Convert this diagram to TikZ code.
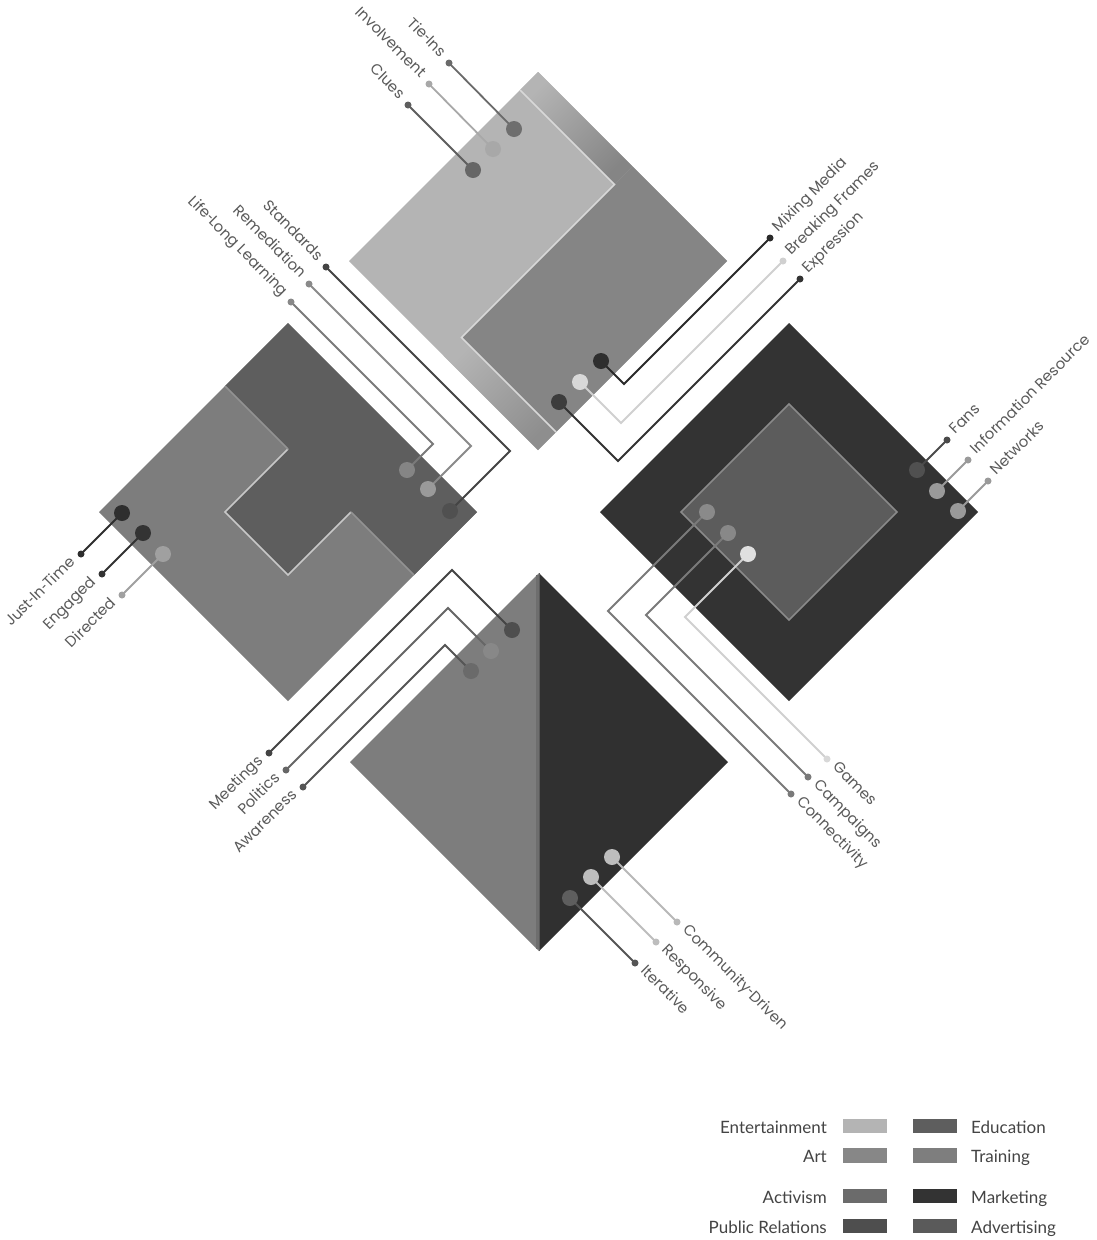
\documentclass[tikz,border=0pt]{standalone}
\usepackage{fontspec}
\newfontfamily\labfont{Poppins}
\newfontfamily\legfont{Lato}
\usetikzlibrary{calc}
\pgfdeclarelayer{back}
\pgfdeclarelayer{mid}
\pgfsetlayers{back,mid,main}
\newcommand\defg[1]{\definecolor{g#1}{HTML}{#1#1#1}}
\newcommand\hy{\scalebox{0.6}[1]{-}}
\defg{2A}\defg{2E}\defg{30}\defg{33}\defg{3C}\defg{44}\defg{4A}\defg{4E}\defg{50}\defg{55}
\defg{5A}\defg{5C}\defg{5E}\defg{66}\defg{6A}\defg{6B}\defg{6E}\defg{74}\defg{7A}\defg{7D}\defg{7E}
\defg{80}\defg{85}\defg{87}\defg{88}\defg{8A}\defg{8E}\defg{92}\defg{9A}\defg{A0}\defg{A8}\defg{B4}
\defg{B8}\defg{BD}\defg{C8}\defg{D0}\defg{D8}\defg{E0}
\begin{document}
\begin{tikzpicture}[x=1pt,y=-1pt,
  bigdot/.style={circle,inner sep=0pt,minimum size=16pt},
  smalldot/.style={circle,inner sep=0pt,minimum size=7pt},
  conn/.style={line width=1.8pt,line join=miter},
  lab/.style={font=\labfont\fontsize{15}{18}\selectfont,text=g5A,inner sep=0pt,text height=0.5em,text depth=0pt},
  leg/.style={font=\legfont\fontsize{17}{20}\selectfont,text=g44,inner sep=0pt},
  swatch/.style={inner sep=0pt,minimum width=44pt,minimum height=14.5pt},
  ridge/.style={line width=1.6pt}
]
\useasboundingbox (0,0) rectangle (1096,1240);

% ---------------- diamonds ----------------
\begin{pgfonlayer}{back}
\fill[white] (0,0) rectangle (1096,1240);
% top: Entertainment / Art
\fill[gB4] (538,72) -- (727,261) -- (538,450) -- (349,261) -- cycle;
\fill[g85] (632.5,166.5) -- (727,261) -- (556,432) -- (461.5,337.5) -- cycle;
\shade[top color=gB4,bottom color=g85,shading angle=45] (538,72) -- (632.5,166.5) -- (614.5,184.5) -- (520,90) -- cycle;
\shade[top color=gB4,bottom color=g8E,shading angle=45] (443.5,355.5) -- (461.5,337.5) -- (556,432) -- (538,450) -- cycle;
\draw[ridge,gD8] (520,90) -- (614.5,184.5) -- (461.5,337.5) -- (556,432);
% left: Education / Training
\fill[g7D] (288,323) -- (477,512) -- (288,701) -- (99,512) -- cycle;
\fill[g5E] (288,323) -- (477,512) -- (414,575) -- (351,512) -- (288,575) -- (225,512) -- (288,449) -- (225,386) -- cycle;
\draw[ridge,gC8] (288,449) -- (225,512) -- (288,575) -- (351,512);
\draw[ridge,g92] (225,386) -- (288,449);
\draw[ridge,g92] (351,512) -- (414,575);
% right: Marketing / Advertising
\fill[g33] (789,323) -- (978,512) -- (789,701) -- (600,512) -- cycle;
\filldraw[fill=g5C,draw=g8A,line width=1.5pt] (789,404) -- (897,512) -- (789,620) -- (681,512) -- cycle;
% bottom
\fill[g7D] (539,573) -- (539,951) -- (350,762) -- cycle;
\fill[g30] (539,573) -- (728,762) -- (539,951) -- cycle;
\draw[line width=3pt,g6E] (537.5,575) -- (537.5,949);
\draw[line width=1pt,g5A] (539.3,573) -- (539.3,951);
\end{pgfonlayer}

% ---------------- dots ----------------
% top diamond, upper left
\node[smalldot,fill=g6A] (TieS) at (449,63) {};
\node[bigdot,fill=g6E]   (TieB) at (514,129) {};
\node[smalldot,fill=gA8] (InvS) at (429,84) {};
\node[bigdot,fill=gA8]   (InvB) at (493,149) {};
\node[smalldot,fill=g5E] (CluS) at (408,105) {};
\node[bigdot,fill=g66]   (CluB) at (473,170) {};
% top diamond, lower right
\node[bigdot,fill=g2E]   (MixB) at (601,361) {};
\coordinate (MixC) at (624,384);
\node[smalldot,fill=g2A] (MixS) at (770,238) {};
\node[bigdot,fill=gD8]   (BrkB) at (580,382) {};
\coordinate (BrkC) at (621,423);
\node[smalldot,fill=gD0] (BrkS) at (783,261) {};
\node[bigdot,fill=g3C]   (ExpB) at (559,402) {};
\coordinate (ExpC) at (618,461);
\node[smalldot,fill=g33] (ExpS) at (800,279) {};
% left diamond, upper right
\node[smalldot,fill=g44] (StdS) at (326,267) {};
\coordinate (StdC) at (510,451);
\node[bigdot,fill=g50]   (StdB) at (450,511) {};
\node[smalldot,fill=g8A] (RemS) at (309,284) {};
\coordinate (RemC) at (471,446);
\node[bigdot,fill=g9A]   (RemB) at (428,489) {};
\node[smalldot,fill=g88] (LifS) at (291,302) {};
\coordinate (LifC) at (433,444);
\node[bigdot,fill=g85]   (LifB) at (407,470) {};
% left diamond, lower left
\node[bigdot,fill=g2E]   (JitB) at (122,513) {};
\node[smalldot,fill=g2E] (JitS) at (81,554) {};
\node[bigdot,fill=g33]   (EngB) at (143,533) {};
\node[smalldot,fill=g33] (EngS) at (102,574) {};
\node[bigdot,fill=gA0]   (DirB) at (163,554) {};
\node[smalldot,fill=gA0] (DirS) at (122,595) {};
% right diamond, upper right
\node[bigdot,fill=g50]   (FanB) at (917,470) {};
\node[smalldot,fill=g4A] (FanS) at (947,440) {};
\node[bigdot,fill=g9A]   (InfB) at (937,491) {};
\node[smalldot,fill=g9A] (InfS) at (968,460) {};
\node[bigdot,fill=g9A]   (NetB) at (958,511) {};
\node[smalldot,fill=g9A] (NetS) at (988,481) {};
% right diamond, lower left
\node[bigdot,fill=g8A]   (ConB) at (707,512) {};
\coordinate (ConC) at (608,611);
\node[smalldot,fill=g7A] (ConS) at (791,794) {};
\node[bigdot,fill=g88]   (CamB) at (728,533) {};
\coordinate (CamC) at (646,615);
\node[smalldot,fill=g7A] (CamS) at (808,777) {};
\node[bigdot,fill=gE0]   (GamB) at (748,554) {};
\coordinate (GamC) at (685,617);
\node[smalldot,fill=gD8] (GamS) at (827,759) {};
% bottom diamond, upper left
\node[bigdot,fill=g4E]   (MeeB) at (512,630) {};
\coordinate (MeeC) at (452,570);
\node[smalldot,fill=g44] (MeeS) at (269,753) {};
\node[bigdot,fill=g88]   (PolB) at (491,651) {};
\coordinate (PolC) at (448,608);
\node[smalldot,fill=g66] (PolS) at (286,770) {};
\node[bigdot,fill=g6A]   (AwaB) at (471,671) {};
\coordinate (AwaC) at (445,645);
\node[smalldot,fill=g55] (AwaS) at (303,787) {};
% bottom diamond, lower right
\node[bigdot,fill=gBD]   (ComB) at (612,857) {};
\node[smalldot,fill=gB8] (ComS) at (677,922) {};
\node[bigdot,fill=gBD]   (ResB) at (591,877) {};
\node[smalldot,fill=gBD] (ResS) at (656,942) {};
\node[bigdot,fill=g5E]   (IteB) at (570,898) {};
\node[smalldot,fill=g55] (IteS) at (635,963) {};

% ---------------- connectors ----------------
\begin{pgfonlayer}{mid}
\draw[conn,g6A] (TieS.center) -- (TieB.center);
\draw[conn,gA8] (InvS.center) -- (InvB.center);
\draw[conn,g5E] (CluS.center) -- (CluB.center);
\draw[conn,g2A] (MixB.center) -- (MixC) -- (MixS.center);
\draw[conn,gD0] (BrkB.center) -- (BrkC) -- (BrkS.center);
\draw[conn,g33] (ExpB.center) -- (ExpC) -- (ExpS.center);
\draw[conn,g44] (StdS.center) -- (StdC) -- (StdB.center);
\draw[conn,g8A] (RemS.center) -- (RemC) -- (RemB.center);
\draw[conn,g7A] (LifS.center) -- (LifC) -- (LifB.center);
\draw[conn,g2E] (JitB.center) -- (JitS.center);
\draw[conn,g33] (EngB.center) -- (EngS.center);
\draw[conn,gA0] (DirB.center) -- (DirS.center);
\draw[conn,g4A] (FanB.center) -- (FanS.center);
\draw[conn,g9A] (InfB.center) -- (InfS.center);
\draw[conn,g9A] (NetB.center) -- (NetS.center);
\draw[conn,g7A] (ConB.center) -- (ConC) -- (ConS.center);
\draw[conn,g7A] (CamB.center) -- (CamC) -- (CamS.center);
\draw[conn,gD0] (GamB.center) -- (GamC) -- (GamS.center);
\draw[conn,g44] (MeeB.center) -- (MeeC) -- (MeeS.center);
\draw[conn,g66] (PolB.center) -- (PolC) -- (PolS.center);
\draw[conn,g55] (AwaB.center) -- (AwaC) -- (AwaS.center);
\draw[conn,gB8] (ComB.center) -- (ComS.center);
\draw[conn,gBD] (ResB.center) -- (ResS.center);
\draw[conn,g55] (IteB.center) -- (IteS.center);
\end{pgfonlayer}

% ---------------- labels ----------------
\node[lab,rotate=-45,anchor=east] (TieL) at ($(TieS)+(-7,-7)$) {Tie\hy Ins};
\node[lab,rotate=-45,anchor=east] (InvL) at ($(InvS)+(-7,-7)$) {Involvement};
\node[lab,rotate=-45,anchor=east] (CluL) at ($(CluS)+(-7,-7)$) {Clues};
\node[lab,rotate=45,anchor=west] (MixL) at ($(MixS)+(7,-7)$) {Mixing Media};
\node[lab,rotate=45,anchor=west] (BrkL) at ($(BrkS)+(7,-7)$) {Breaking Frames};
\node[lab,rotate=45,anchor=west] (ExpL) at ($(ExpS)+(7,-7)$) {Expression};
\node[lab,rotate=-45,anchor=east] (StdL) at ($(StdS)+(-7,-7)$) {Standards};
\node[lab,rotate=-45,anchor=east] (RemL) at ($(RemS)+(-7,-7)$) {Remediation};
\node[lab,rotate=-45,anchor=east] (LifL) at ($(LifS)+(-7,-7)$) {Life\hy Long Learning};
\node[lab,rotate=45,anchor=east] (JitL) at ($(JitS)+(-7,7)$) {Just\hy In\hy Time};
\node[lab,rotate=45,anchor=east] (EngL) at ($(EngS)+(-7,7)$) {Engaged};
\node[lab,rotate=45,anchor=east] (DirL) at ($(DirS)+(-7,7)$) {Directed};
\node[lab,rotate=45,anchor=west] (FanL) at ($(FanS)+(7,-7)$) {Fans};
\node[lab,rotate=45,anchor=west] (InfL) at ($(InfS)+(7,-7)$) {Information Resource};
\node[lab,rotate=45,anchor=west] (NetL) at ($(NetS)+(7,-7)$) {Networks};
\node[lab,rotate=-45,anchor=west] (GamL) at ($(GamS)+(7,7)$) {Games};
\node[lab,rotate=-45,anchor=west] (CamL) at ($(CamS)+(7,7)$) {Campaigns};
\node[lab,rotate=-45,anchor=west] (ConL) at ($(ConS)+(7,7)$) {Connectivity};
\node[lab,rotate=45,anchor=east] (MeeL) at ($(MeeS)+(-7,7)$) {Meetings};
\node[lab,rotate=45,anchor=east] (PolL) at ($(PolS)+(-7,7)$) {Politics};
\node[lab,rotate=45,anchor=east] (AwaL) at ($(AwaS)+(-7,7)$) {Awareness};
\node[lab,rotate=-45,anchor=west] (ComL) at ($(ComS)+(7,7)$) {Community\hy Driven};
\node[lab,rotate=-45,anchor=west] (ResL) at ($(ResS)+(7,7)$) {Responsive};
\node[lab,rotate=-45,anchor=west] (IteL) at ($(IteS)+(7,7)$) {Iterative};

% ---------------- legend ----------------
\node[swatch,fill=gB4] (sEnt) at (865,1126) {};
\node[swatch,fill=g87] (sArt) at (865,1155.5) {};
\node[swatch,fill=g6B] (sAct) at (865,1196) {};
\node[swatch,fill=g4E] (sPR)  at (865,1226) {};
\node[swatch,fill=g5E] (sEdu) at (935,1126) {};
\node[swatch,fill=g7E] (sTra) at (935,1155.5) {};
\node[swatch,fill=g33] (sMkt) at (935,1196) {};
\node[swatch,fill=g5A] (sAdv) at (935,1226) {};
\node[leg,anchor=base east] (tEnt) at (827,1133) {Entertainment};
\node[leg,anchor=base east] (tArt) at (827,1162.5) {Art};
\node[leg,anchor=base east] (tAct) at (827,1203) {Activism};
\node[leg,anchor=base east] (tPR)  at (827,1233) {Public Relations};
\node[leg,anchor=base west] (tEdu) at (971,1133) {Education};
\node[leg,anchor=base west] (tTra) at (971,1162.5) {Training};
\node[leg,anchor=base west] (tMkt) at (971,1203) {Marketing};
\node[leg,anchor=base west] (tAdv) at (971,1233) {Advertising};
\end{tikzpicture}
\end{document}
